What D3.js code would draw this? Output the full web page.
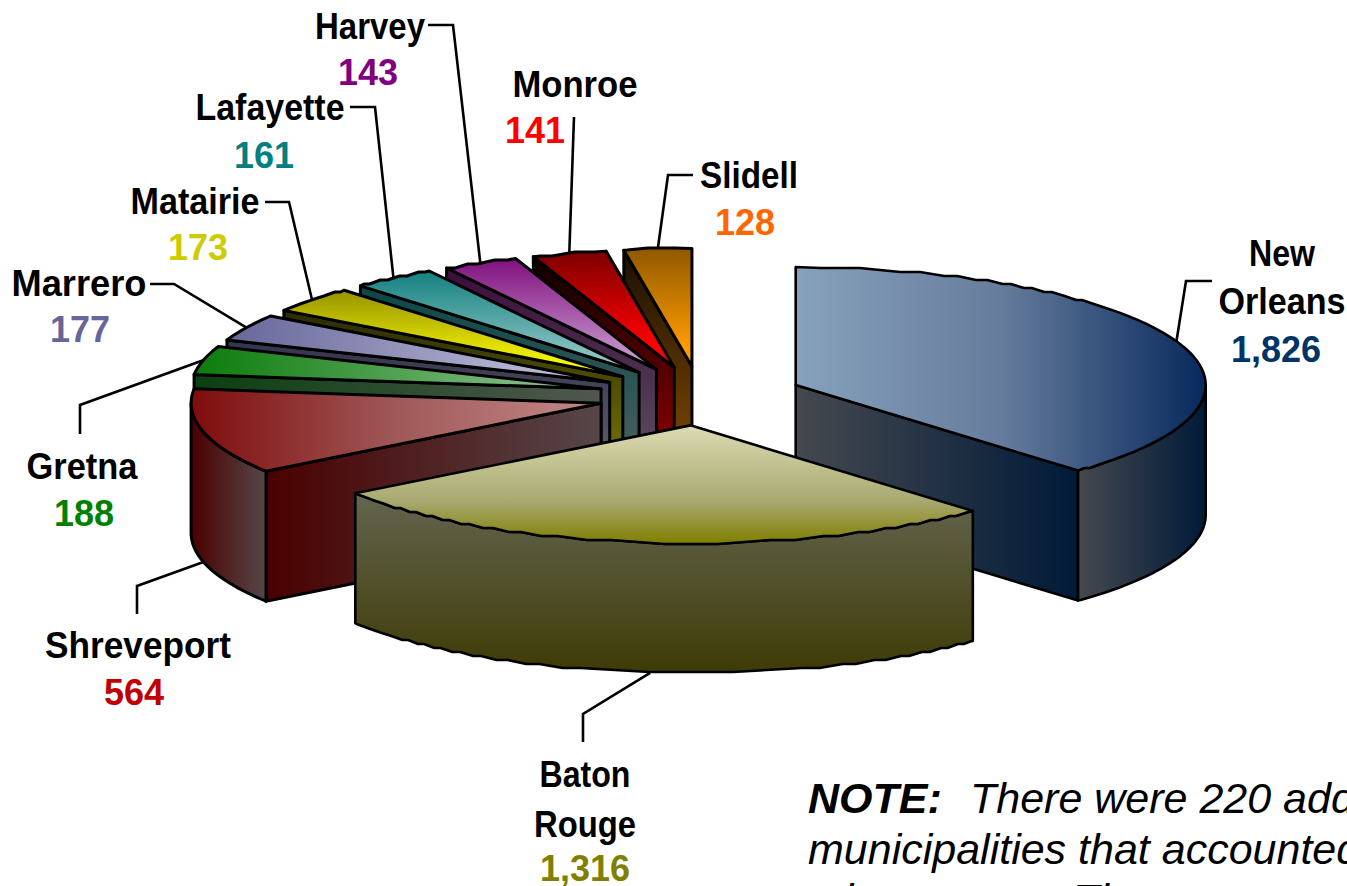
<!DOCTYPE html>
<html>
<head>
<meta charset="utf-8">
<script src="https://cdn.jsdelivr.net/npm/d3@7"></script>
<style>
html,body{margin:0;padding:0;background:#fff;overflow:hidden}
text{font-family:"Liberation Sans",Arial,sans-serif}
</style>
</head>
<body>
<svg id="chart" width="1347" height="886"></svg>
<script>
// ---- data ----
const categories = ["New Orleans","Baton Rouge","Shreveport","Gretna","Marrero","Matairie","Lafayette","Harvey","Monroe","Slidell"];
const values = [1826,1316,564,188,177,173,161,143,141,128];
const nameLines = [["New","Orleans"],["Baton","Rouge"],["Shreveport"],["Gretna"],["Marrero"],["Matairie"],["Lafayette"],["Harvey"],["Monroe"],["Slidell"]];
const valueColors = ["#003366","#808000","#c00000","#008000","#666699","#cccc00","#008080","#800080","#ff0000","#ff6600"];

// ---- style: gradient axis, then [offset, colour] stops ----
const topFill = [
 ["h",[0,"#87a2bd"],[.5,"#667c9c"],[1,"#07295c"]],
 ["v",[0,"#dcdcb4"],[.64,"#a8a870"],[1,"#7f7f00"]],
 ["h",[0,"#7f0c0c"],[.5,"#a05858"],[1,"#c58a8a"]],
 ["h",[0,"#0c7c0c"],[1,"#98c89a"]],
 ["h",[0,"#66669a"],[.85,"#bcbcd8"],[1,"#c8c8e0"]],
 ["v",[0,"#969200"],[.85,"#f8f800"],[1,"#ffff00"]],
 ["v",[0,"#148080"],[.85,"#8cc4c4"],[1,"#8cc4c4"]],
 ["v",[0,"#80107f"],[.85,"#c490c8"],[1,"#c490c8"]],
 ["v",[0,"#7c0000"],[.8,"#ff0000"],[1,"#ff0000"]],
 ["v",[0,"#905800"],[.85,"#ff9c00"],[1,"#ff9c00"]]
];
const wallFill = [
 ["h",[0,"#45494f"],[1,"#001a38"]],
 ["v",[0,"#63654f"],[1,"#3f3b06"]],
 ["h",[0,"#4a0000"],[1,"#564648"]],
 ["h",[0,"#0a4010"],[1,"#50584f"]],
 ["v",[0,"#33334d"],[1,"#70707a"]],
 ["v",[0,"#2a2a00"],[1,"#8a8a00"]],
 ["v",[0,"#0a4848"],[1,"#5c6464"]],
 ["v",[0,"#3c0d3b"],[1,"#605a66"]],
 ["v",[0,"#0b0000"],[1,"#a60000"]],
 ["v",[0,"#1a0f00"],[1,"#8f5200"]]
];

// ---- layout ----
const W = 1347, H = 886;
const cx = 700.5, cy = 396, rx = 410, ry = 118, depth = 130, explode = 0.25;
const nameBase = [[1282,266],[585,787],[138,658],[82,479],[79,296],[195,214],[270,120],[370,39],[575,97],[749,188]];
const nameWidth = [[66,127],[91,102],[186],[111],[135],[129],[149],[110],[125],[98]];
const valueBase = [[1276,362],[585,881],[134,705],[84,526],[80,342],[198,260],[264,168],[368,85],[535,143],[745,235]];
const leaderStart = [[1212,281],[583,742],[137,614],[80,434],[150,284],[265,202],[350,107],[428,25],[574,117],[693,175]];
const leaderKnee = [[1186,281],[583,714],[137,586],[80,405],[174,284],[289,202],[375,107],[453,25],null,[668,175]];
const leaderAnchorDepth = [0,130,130,0,0,0,0,0,0,0];
const labelSize = 36, noteSize = 43;

const svg = d3.select("#chart");
const defs = svg.append("defs");
const xScale = d3.scaleLinear().domain([-1,1]).range([-rx,rx]);
const yScale = d3.scaleLinear().domain([-1,1]).range([ry,-ry]);

const pie = d3.pie().sort(null).startAngle(0).endAngle(2*Math.PI);
const slices = pie(values).map((s,i)=>{
  const mid = (s.startAngle+s.endAngle)/2;
  return {i, a0:s.startAngle, a1:s.endAngle, mid,
    ox: cx + xScale(explode*Math.sin(mid)),
    oy: cy + yScale(explode*Math.cos(mid))};
});
const pt = (s,a,z=0)=>[s.ox+xScale(Math.sin(a)), s.oy+yScale(Math.cos(a))+z];

// the reference's outline is a coarse metafile curve: flat runs joined by gentle slopes
function lumpyArc(s,a0,a1,z=0){
  const n = Math.max(2,Math.ceil((a1-a0)/(Math.PI/360)));
  const raw = d3.range(n+1).map(k=>pt(s,a0+(a1-a0)*k/n,z));
  const q = 4, runs=[];
  raw.forEach(p=>{
    const key=Math.round(p[1]/q);
    const last=runs[runs.length-1];
    if(last&&last.key===key) last.pts.push(p); else runs.push({key,pts:[p]});
  });
  const out=[raw[0]];
  runs.forEach(r=>{
    const A=r.pts[0],B=r.pts[r.pts.length-1];
    const yy=r.key*q;
    if(Math.abs(B[0]-A[0])<12){
      out.push(r.pts[Math.floor(r.pts.length/2)]);
    } else {
      const t=0.28;
      out.push([A[0]+(B[0]-A[0])*t,yy],[B[0]-(B[0]-A[0])*t,yy]);
    }
  });
  out.push(raw[raw.length-1]);
  return out;
}
const line = d3.line().curve(d3.curveLinearClosed);

function grad(id,spec){
  const g=defs.append("linearGradient").attr("id",id)
    .attr("x1",0).attr("y1",0)
    .attr("x2",spec[0]==="h"?1:0).attr("y2",spec[0]==="h"?0:1);
  spec.slice(1).forEach(st=>g.append("stop").attr("offset",st[0]).attr("stop-color",st[1]));
  return `url(#${id})`;
}

// leaders under the slices
const gLead = svg.append("g").attr("fill","none").attr("stroke","#000").attr("stroke-width",2.6).attr("stroke-linejoin","miter");
const leadLine = d3.line();
slices.forEach(s=>{
  const anchor = pt(s,s.mid,leaderAnchorDepth[s.i]);
  const p=[leaderStart[s.i]];
  if(leaderKnee[s.i]) p.push(leaderKnee[s.i]);
  p.push(anchor);
  gLead.append("path").attr("d",leadLine(p));
});

// painter's order: back to front
const gPie = svg.append("g").attr("stroke","#000").attr("stroke-linejoin","round");
slices.slice().sort((a,b)=>d3.descending(Math.cos(a.mid),Math.cos(b.mid))).forEach(s=>{
  const i=s.i, top=grad("t"+i,topFill[i]), wall=grad("w"+i,wallFill[i]);
  const sw = i<2 ? 2.6 : 3;
  const c=[s.ox,s.oy], cz=[s.ox,s.oy+depth];
  if(Math.sin(s.a0)<-1e-6){
    const p=pt(s,s.a0), q=pt(s,s.a0,depth);
    gPie.append("path").attr("d",line([c,p,q,cz])).attr("fill",wall).attr("stroke-width",sw);
  }
  if(Math.sin(s.a1)>1e-6){
    const p=pt(s,s.a1), q=pt(s,s.a1,depth);
    gPie.append("path").attr("d",line([c,p,q,cz])).attr("fill",wall).attr("stroke-width",sw);
  }
  const b0=Math.max(s.a0,Math.PI/2), b1=Math.min(s.a1,3*Math.PI/2);
  if(b1>b0){
    const up=lumpyArc(s,b0,b1), dn=lumpyArc(s,b0,b1,depth).reverse();
    gPie.append("path").attr("d",line(up.concat(dn))).attr("fill",wall).attr("stroke-width",sw);
  }
  gPie.append("path").attr("d",line([c].concat(lumpyArc(s,s.a0,s.a1)))).attr("fill",top).attr("stroke-width",sw);
});

// labels
const fmt=d3.format(",");
const gText=svg.append("g").attr("font-size",labelSize).attr("font-weight","bold").attr("text-anchor","middle");
slices.forEach(s=>{
  nameLines[s.i].forEach((t,k)=>{
    gText.append("text").attr("x",nameBase[s.i][0])
      .attr("y",nameBase[s.i][1]+k*(s.i===1?50:48)).attr("fill","#000")
      .attr("textLength",nameWidth[s.i][k]).attr("lengthAdjust","spacingAndGlyphs").text(t);
  });
  gText.append("text").attr("x",valueBase[s.i][0]).attr("y",valueBase[s.i][1])
    .attr("fill",valueColors[s.i]).text(fmt(values[s.i]));
});

// note
const noteX = 808, noteY = 813, noteStep = 50.5;
const gNote=svg.append("g").attr("font-size",noteSize).attr("font-style","italic").attr("fill","#000");
const l1=gNote.append("text").attr("x",noteX).attr("y",noteY);
l1.append("tspan").attr("font-weight","bold").text("NOTE:");
l1.append("tspan").attr("x",970).text("There were 220 additional");
gNote.append("text").attr("x",noteX).attr("y",noteY+noteStep).text("municipalities that accounted");
const l3=gNote.append("text").attr("x",noteX).attr("y",noteY+2*noteStep);
l3.append("tspan").text("minor ones.");
l3.append("tspan").attr("x",1073).text("The");
</script>
</body>
</html>
